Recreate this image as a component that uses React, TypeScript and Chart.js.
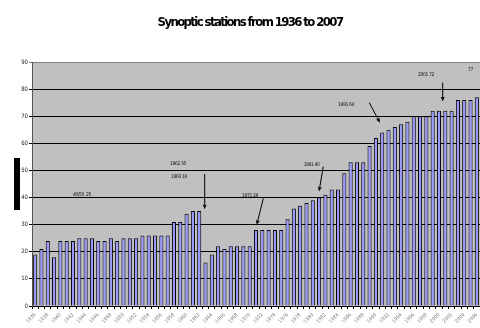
import { useEffect, useRef } from "react";
import { Chart, registerables } from "chart.js";

Chart.register(...registerables);

const titleText = "Synoptic stations from 1936 to 2007";

const years: string[] = [
  "1936", "1937", "1938", "1939", "1940", "1941", "1942", "1943", "1944", "1945",
  "1946", "1947", "1948", "1949", "1950", "1951", "1952", "1953", "1954", "1955",
  "1956", "1957", "1958", "1959", "1960", "1961", "1962", "1963", "1964", "1965",
  "1966", "1967", "1968", "1969", "1970", "1971", "1972", "1973", "1974", "1975",
  "1976", "1977", "1978", "1979", "1980", "1981", "1982", "1983", "1984", "1985",
  "1986", "1987", "1988", "1989", "1990", "1991", "1992", "1993", "1994", "1995",
  "1996", "1997", "1998", "1999", "2000", "2001", "2002", "2003", "2004", "2005",
  "2006",
];

const stations: number[] = [
  19, 21, 24, 18, 24, 24, 24, 25, 25, 25,
  24, 24, 25, 24, 25, 25, 25, 26, 26, 26,
  26, 26, 31, 31, 34, 35, 35, 16, 19, 22,
  21, 22, 22, 22, 22, 28, 28, 28, 28, 28,
  32, 36, 37, 38, 39, 40, 41, 43, 43, 49,
  53, 53, 53, 59, 62, 64, 65, 66, 67, 68,
  70, 70, 70, 72, 72, 72, 72, 76, 76, 76,
  77,
];

const yTicks: number[] = [0, 10, 20, 30, 40, 50, 60, 70, 80, 90];

// annotation labels (positions in category-index / value space)
const noteTexts: string[] = ["40/50  25", "1962 35", "1963 16", "1971 28", "1981 40", "1991 64", "2001 72", "77"];
const noteX: number[] = [7.42, 22.64, 22.8, 34.05, 43.8, 49.26, 61.94, 69.0];
const noteY: number[] = [40.9, 52.4, 47.8, 40.8, 52.2, 74.1, 85.2, 87.1];

// arrows
const arrowFromX: number[] = [26.87, 36.16, 45.66, 52.95, 64.59];
const arrowFromY: number[] = [48.7, 39.7, 51.4, 75.0, 82.4];
const arrowToX: number[] = [26.87, 35.11, 44.98, 54.65, 64.59];
const arrowToY: number[] = [35.7, 29.9, 42.2, 67.6, 75.4];

const NARROW = '"Liberation Sans Narrow", "DejaVu Sans Condensed", "Liberation Sans", sans-serif';

const decor = {
  id: "decor",
  beforeDraw(chart: any) {
    const { ctx, chartArea: a } = chart;
    ctx.save();
    ctx.fillStyle = "#C0C0C0";
    ctx.fillRect(a.left, a.top, a.right - a.left, a.bottom - a.top);
    ctx.restore();
  },
  afterDraw(chart: any) {
    const { ctx, chartArea: a, scales } = chart;
    const x = scales.x;
    const y = scales.y;
    ctx.save();
    // title
    ctx.fillStyle = "#000";
    ctx.font = `bold 13px ${NARROW}`;
    (ctx as any).letterSpacing = "-1.6px";
    ctx.textAlign = "center";
    ctx.textBaseline = "middle";
    ctx.fillText(titleText, chart.width / 2 + 10, 23);
    // black box on the left (axis title block)
    ctx.fillRect(a.left - 18, (a.top + a.bottom) / 2 - 26, 6, 52);
    // notes
    (ctx as any).letterSpacing = "-0.4px";
    ctx.font = `5px ${NARROW}`;
    ctx.fillStyle = "#111";
    for (let i = 0; i < noteTexts.length; i++) {
      ctx.fillText(noteTexts[i], x.getPixelForValue(noteX[i]), y.getPixelForValue(noteY[i]));
    }
    // arrows
    ctx.strokeStyle = "#000";
    ctx.lineWidth = 1;
    for (let i = 0; i < arrowFromX.length; i++) {
      const x1 = x.getPixelForValue(arrowFromX[i]);
      const y1 = y.getPixelForValue(arrowFromY[i]);
      const x2 = x.getPixelForValue(arrowToX[i]);
      const y2 = y.getPixelForValue(arrowToY[i]);
      const ang = Math.atan2(y2 - y1, x2 - x1);
      const hl = 4.5;
      const hw = 2;
      const bx = x2 - hl * Math.cos(ang);
      const by = y2 - hl * Math.sin(ang);
      ctx.beginPath();
      ctx.moveTo(x1, y1);
      ctx.lineTo(bx, by);
      ctx.stroke();
      ctx.beginPath();
      ctx.moveTo(x2, y2);
      ctx.lineTo(bx + hw * Math.sin(ang), by - hw * Math.cos(ang));
      ctx.lineTo(bx - hw * Math.sin(ang), by + hw * Math.cos(ang));
      ctx.closePath();
      ctx.fill();
    }
    ctx.restore();
  },
};

export default function App() {
  const ref = useRef<HTMLCanvasElement | null>(null);
  useEffect(() => {
    if (!ref.current) return;
    const chart = new Chart(ref.current, {
      type: "bar",
      data: {
        labels: years,
        datasets: [
          {
            data: stations,
            backgroundColor: "#9999FF",
            borderColor: "#000000",
            borderWidth: 1,
            barPercentage: 0.65,
            categoryPercentage: 1.0,
          },
        ],
      },
      options: {
        animation: false,
        responsive: false,
        devicePixelRatio: 1,
        layout: { padding: { top: 62, left: 0, right: 0, bottom: 0 } },
        plugins: {
          legend: { display: false },
          title: { display: false },
          tooltip: { enabled: false },
        },
        scales: {
          x: {
            offset: true,
            grid: {
              display: true,
              drawOnChartArea: false,
              drawTicks: true,
              tickLength: 3,
              color: "#000",
              offset: true,
            },
            border: { display: true, color: "#000", width: 1 },
            ticks: {
              autoSkip: false,
              minRotation: 45,
              maxRotation: 45,
              padding: 3,
              color: "#777",
              font: { size: 5, family: NARROW },
              callback: (_v: any, i: number) => (i % 2 === 0 ? years[i] : ""),
            },
            afterFit: (s: any) => {
              s.height = 22;
              s.paddingLeft = 0;
              s.paddingRight = 0;
            },
          },
          y: {
            min: 0,
            max: 90,
            afterBuildTicks: (s: any) => {
              s.ticks = yTicks.map((v) => ({ value: v }));
            },
            grid: {
              display: true,
              drawOnChartArea: true,
              drawTicks: true,
              tickLength: 3,
              lineWidth: 1,
              color: (c: any) => (c.tick && c.tick.value === 90 ? "#808080" : "#000000"),
            },
            border: { display: true, color: "#555", width: 1 },
            ticks: {
              padding: 1,
              color: "#222",
              font: { size: 6, family: NARROW },
            },
            afterFit: (s: any) => {
              s.width = 32;
              s.paddingTop = 0;
              s.paddingBottom = 0;
            },
          },
        },
      },
      plugins: [decor],
    });
    return () => chart.destroy();
  }, []);
  return (
    <div style={{ position: "fixed", left: 0, top: 0, width: 480, height: 328, background: "#fff" }}>
      <canvas ref={ref} width={480} height={328} style={{ display: "block" }} />
    </div>
  );
}
